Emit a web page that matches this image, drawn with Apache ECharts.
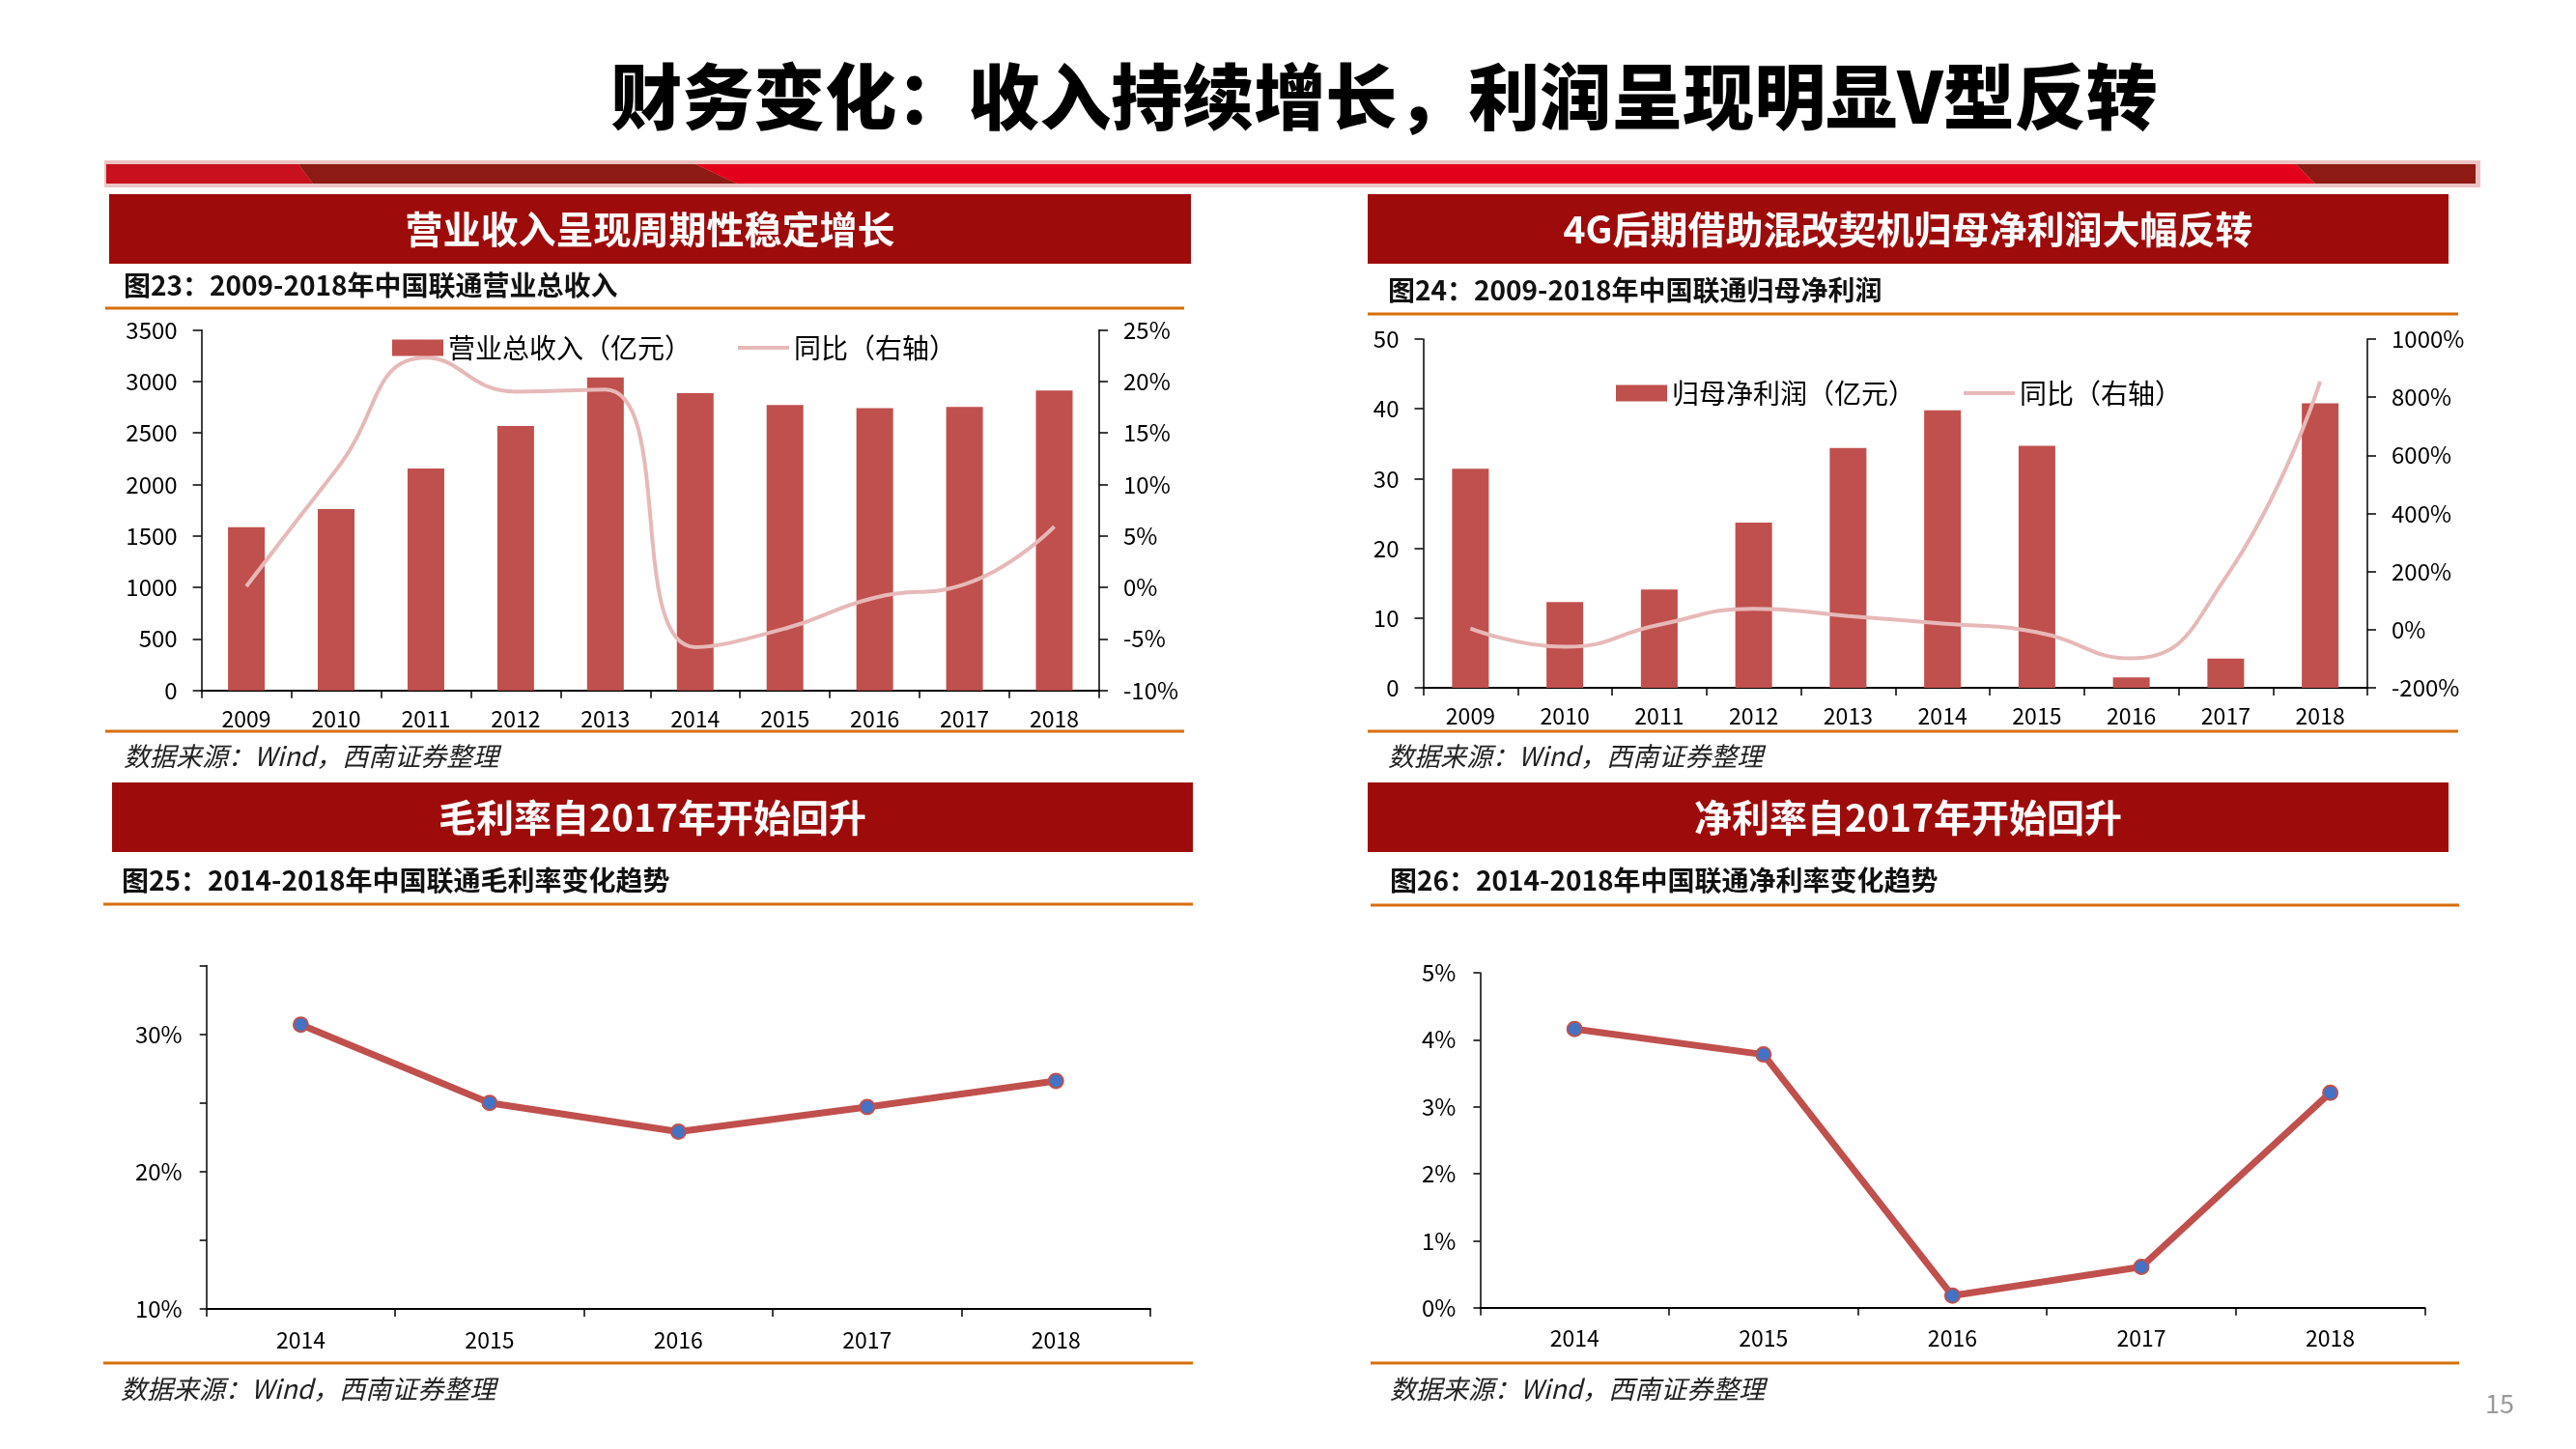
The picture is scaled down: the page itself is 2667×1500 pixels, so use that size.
<!DOCTYPE html>
<html>
<head>
<meta charset="utf-8">
<script src="https://cdn.jsdelivr.net/npm/echarts@6/dist/echarts.min.js"></script>
<style>
  html, body { margin: 0; padding: 0; background: #fff; }
  #main { width: 2667px; height: 1500px; }
</style>
</head>
<body>
<div id="main"></div>
<script>
// 图23 营业总收入
const years1 = ['2009', '2010', '2011', '2012', '2013', '2014', '2015', '2016', '2017', '2018'];
const revenue = [1583, 1761, 2154, 2566, 3037, 2885, 2770, 2740, 2751, 2911];
const revenueYoy = [0.1, 11.4, 22.3, 19.0, 19.2, -5.8, -4.0, -1.0, 0.3, 5.9];
// 图24 归母净利润
const profit = [31.4, 12.3, 14.1, 23.7, 34.4, 39.8, 34.7, 1.5, 4.2, 40.8];
const profitYoy = [4, -59, 17, 72, 47, 21, -9, -99, 180, 854];
// 图25 / 图26
const years2 = ['2014', '2015', '2016', '2017', '2018'];
const grossMargin = [30.7, 25.0, 22.9, 24.7, 26.6];
const netMargin = [4.16, 3.78, 0.18, 0.61, 3.21];

const FONT = 'Noto Sans CJK SC';
const barColor = '#C0504D';
const yoyColor = '#E6B9B8';
const headerColor = '#9E0B0B';
const orange = '#D86E0C';
const lineIcon = 'path://M0,0H52V4H0Z';

const chart = echarts.init(document.getElementById('main'));

function header(x, y, w, h, text) {
  return [
    { type: 'rect', shape: { x: x, y: y, width: w, height: h }, style: { fill: headerColor } },
    { type: 'text', x: x + w / 2, y: y + h / 2,
      style: { text: text, fill: '#fff', font: 'bold 39px "' + FONT + '"', align: 'center', verticalAlign: 'middle' } }
  ];
}
function subtitle(x, y, text) {
  return { type: 'text', x: x, y: y,
    style: { text: text, fill: '#111', font: 'bold 28px "' + FONT + '"', verticalAlign: 'middle' } };
}
function hline(x1, x2, y) {
  return { type: 'line', shape: { x1: x1, y1: y, x2: x2, y2: y }, style: { stroke: orange, lineWidth: 3 } };
}
function source(x, y) {
  return { type: 'text', x: x, y: y,
    style: { text: '数据来源：Wind，西南证券整理', fill: '#222', font: 'italic 27px "' + FONT + '"', verticalAlign: 'middle' } };
}

const graphics = [
  // 大标题
  { type: 'text', x: 1433, y: 100,
    style: { text: '财务变化：收入持续增长，利润呈现明显V型反转', fill: '#000', font: '900 74px "' + FONT + '"', align: 'center', verticalAlign: 'middle' } },
  // 红色横条
  { type: 'rect', shape: { x: 108, y: 166, width: 2460, height: 28 }, style: { fill: '#EBC3C3' } },
  { type: 'polygon', shape: { points: [[110, 170], [309, 170], [324, 190], [110, 190]] }, style: { fill: '#C8101E' } },
  { type: 'polygon', shape: { points: [[309, 170], [720, 170], [763, 190], [324, 190]] }, style: { fill: '#8E1A14' } },
  { type: 'polygon', shape: { points: [[720, 170], [2377, 170], [2397, 190], [763, 190]] }, style: { fill: '#E2001A' } },
  { type: 'polygon', shape: { points: [[2377, 170], [2563, 170], [2563, 190], [2397, 190]] }, style: { fill: '#8E1A14' } },
  ...header(113, 201, 1120, 72, '营业收入呈现周期性稳定增长'),
  ...header(1416, 201, 1119, 72, '4G后期借助混改契机归母净利润大幅反转'),
  ...header(116, 810, 1119, 72, '毛利率自2017年开始回升'),
  ...header(1416, 810, 1119, 72, '净利率自2017年开始回升'),
  subtitle(128, 295, '图23：2009-2018年中国联通营业总收入'),
  subtitle(1437, 300, '图24：2009-2018年中国联通归母净利润'),
  subtitle(126, 911, '图25：2014-2018年中国联通毛利率变化趋势'),
  subtitle(1439, 911, '图26：2014-2018年中国联通净利率变化趋势'),
  hline(109, 1226, 319), hline(109, 1226, 757),
  hline(1416, 2545, 325), hline(1416, 2545, 757),
  hline(107, 1235, 936), hline(107, 1235, 1411),
  hline(1419, 2546, 937), hline(1419, 2546, 1411),
  source(128, 783), source(1437, 783), source(125, 1438), source(1439, 1438),
  { type: 'text', x: 2588, y: 1453,
    style: { text: '15', fill: '#999', font: '27px "' + FONT + '"', align: 'center', verticalAlign: 'middle' } }
];

const axisLine = { show: true, lineStyle: { color: '#000', width: 1.5 } };
const xLine = { show: true, lineStyle: { color: '#000', width: 2 } };
const tick = function (len) { return { show: true, length: len, lineStyle: { color: '#000', width: 1.5 } }; };
const label = function (size, margin) { return { color: '#000', fontSize: size, fontFamily: FONT, margin: margin }; };
const plain = function (v) { return String(v); };
const pct = function (v) { return v + '%'; };

function catAxis(grid, data, margin) {
  return {
    type: 'category', gridIndex: grid, data: data, boundaryGap: true,
    axisLine: xLine, axisTick: Object.assign(tick(8), { alignWithLabel: false }),
    axisLabel: label(23, margin), splitLine: { show: false }
  };
}
function valAxis(grid, pos, min, max, interval, fmt) {
  return {
    type: 'value', gridIndex: grid, position: pos, min: min, max: max, interval: interval,
    axisLine: axisLine, axisTick: tick(9),
    axisLabel: Object.assign(label(24, 25), { formatter: fmt }),
    splitLine: { show: false }
  };
}

const option = {
  backgroundColor: '#fff',
  animation: false,
  textStyle: { fontFamily: FONT },
  graphic: graphics,
  grid: [
    { left: 208.6, top: 341.4, width: 929.4, height: 373.3 },
    { left: 1473.5, top: 351, width: 977.5, height: 361 },
    { left: 213.7, top: 999.5, width: 977.3, height: 355.5 },
    { left: 1532.4, top: 1007, width: 978, height: 346.8 }
  ],
  legend: [
    {
      left: 401, top: 341, itemWidth: 53, itemHeight: 17, itemGap: 48,
      textStyle: { fontSize: 28, fontFamily: FONT, color: '#000' },
      data: [{ name: '营业总收入（亿元）', icon: 'rect' }, { name: '同比（右轴）', icon: lineIcon }]
    },
    {
      left: 1668, top: 388, itemWidth: 53, itemHeight: 17, itemGap: 50,
      textStyle: { fontSize: 28, fontFamily: FONT, color: '#000' },
      data: [{ name: '归母净利润（亿元）', icon: 'rect' }, { name: '同比（右轴） ', icon: lineIcon }]
    }
  ],
  xAxis: [
    catAxis(0, years1, 18),
    catAxis(1, years1, 18),
    catAxis(2, years2, 21),
    catAxis(3, years2, 20)
  ],
  yAxis: [
    valAxis(0, 'left', 0, 3500, 500, plain),
    valAxis(0, 'right', -10, 25, 5, pct),
    valAxis(1, 'left', 0, 50, 10, plain),
    valAxis(1, 'right', -200, 1000, 200, pct),
    Object.assign(valAxis(2, 'left', 10, 35, 5, function (v) { return v % 10 === 0 ? v + '%' : ''; }), { axisTick: tick(7) }),
    Object.assign(valAxis(3, 'left', 0, 5, 1, pct), { axisTick: tick(7) })
  ],
  series: [
    {
      name: '营业总收入（亿元）', type: 'bar', xAxisIndex: 0, yAxisIndex: 0,
      data: revenue, barWidth: 38, itemStyle: { color: barColor }
    },
    {
      name: '同比（右轴）', type: 'line', xAxisIndex: 0, yAxisIndex: 1,
      data: revenueYoy, smooth: 0.5, symbol: 'none',
      lineStyle: { color: yoyColor, width: 4 }, itemStyle: { color: yoyColor }, z: 3
    },
    {
      name: '归母净利润（亿元）', type: 'bar', xAxisIndex: 1, yAxisIndex: 2,
      data: profit, barWidth: 38, itemStyle: { color: barColor }
    },
    {
      name: '同比（右轴） ', type: 'line', xAxisIndex: 1, yAxisIndex: 3,
      data: profitYoy, smooth: 0.5, symbol: 'none',
      lineStyle: { color: yoyColor, width: 4 }, itemStyle: { color: yoyColor }, z: 3
    },
    {
      name: '毛利率', type: 'line', xAxisIndex: 2, yAxisIndex: 4,
      data: grossMargin, symbol: 'circle', symbolSize: 15,
      lineStyle: { color: barColor, width: 7 },
      itemStyle: { color: '#4472C4', borderColor: barColor, borderWidth: 2 }
    },
    {
      name: '净利率', type: 'line', xAxisIndex: 3, yAxisIndex: 5,
      data: netMargin, symbol: 'circle', symbolSize: 15,
      lineStyle: { color: barColor, width: 7 },
      itemStyle: { color: '#4472C4', borderColor: barColor, borderWidth: 2 }
    }
  ]
};

chart.setOption(option);
window.addEventListener('resize', function () {
  chart.resize();
});
</script>
</body>
</html>
